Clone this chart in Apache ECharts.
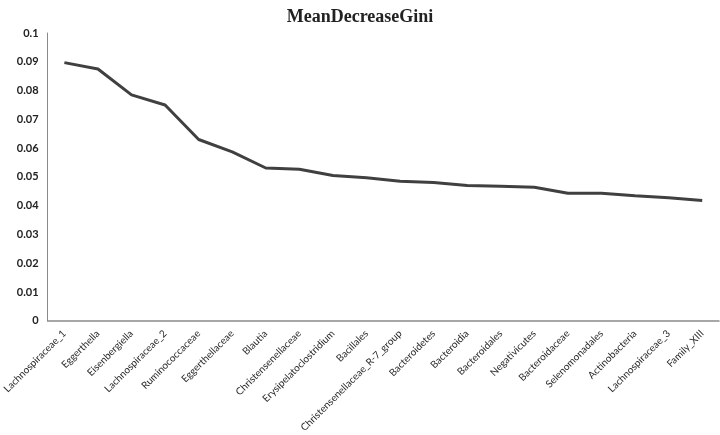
<!DOCTYPE html>
<html>
<head>
<meta charset="utf-8">
<script src="https://cdn.jsdelivr.net/npm/echarts@6/dist/echarts.min.js"></script>
<style>html,body{margin:0;padding:0;background:#fff;}#c{width:720px;height:435px;}</style>
</head>
<body>
<div id="c"></div>
<script>
const categories = ["Lachnospiraceae_1","Eggerthella","Eisenbergiella","Lachnospiraceae_2","Ruminococcaceae","Eggerthellaceae","Blautia","Christensenellaceae","Erysipelatoclostridium","Bacillales","Christensenellaceae_R-7_group","Bacteroidetes","Bacteroidia","Bacteroidales","Negativicutes","Bacteroidaceae","Selenomonadales","Actinobacteria","Lachnospiraceae_3","Family_XIII"];
const values = [0.0897,0.0875,0.0785,0.0750,0.0630,0.0587,0.0531,0.0527,0.0505,0.0497,0.0485,0.0481,0.0470,0.0468,0.0464,0.0443,0.0443,0.0435,0.0428,0.0418];
const yTicks = {min: 0, max: 0.1, interval: 0.01};

const chart = echarts.init(document.getElementById('c'), null, {renderer: 'canvas'});
chart.setOption({
  animation: false,
  backgroundColor: '#ffffff',
  title: {
    text: 'MeanDecreaseGini',
    left: 'center',
    top: 3,
    textStyle: {fontFamily: 'Liberation Serif', fontWeight: 'bold', fontSize: 18, color: '#222'}
  },
  grid: {left: 44, right: 1, top: 33, bottom: 113, containLabel: false},
  xAxis: {
    type: 'category',
    data: categories,
    boundaryGap: true,
    axisLine: {show: true, lineStyle: {color: '#8a8a8a', width: 1.5}},
    axisTick: {show: false},
    axisLabel: {
      interval: 0,
      rotate: 45,
      margin: 11,
      fontFamily: 'Lato',
      fontSize: 10,
      color: '#2a2a2a'
    },
    splitLine: {show: false}
  },
  yAxis: {
    type: 'value',
    min: yTicks.min,
    max: yTicks.max,
    interval: yTicks.interval,
    axisLine: {show: true, lineStyle: {color: '#8a8a8a', width: 1}},
    axisTick: {show: false},
    splitLine: {show: false},
    axisLabel: {
      margin: 9,
      fontFamily: 'Lato',
      fontWeight: 'bold',
      fontSize: 11,
      color: '#222'
    }
  },
  series: [{
    type: 'line',
    data: values,
    showSymbol: false,
    symbol: 'none',
    lineStyle: {color: '#404040', width: 3},
    itemStyle: {color: '#404040'}
  }]
});
</script>
</body>
</html>
